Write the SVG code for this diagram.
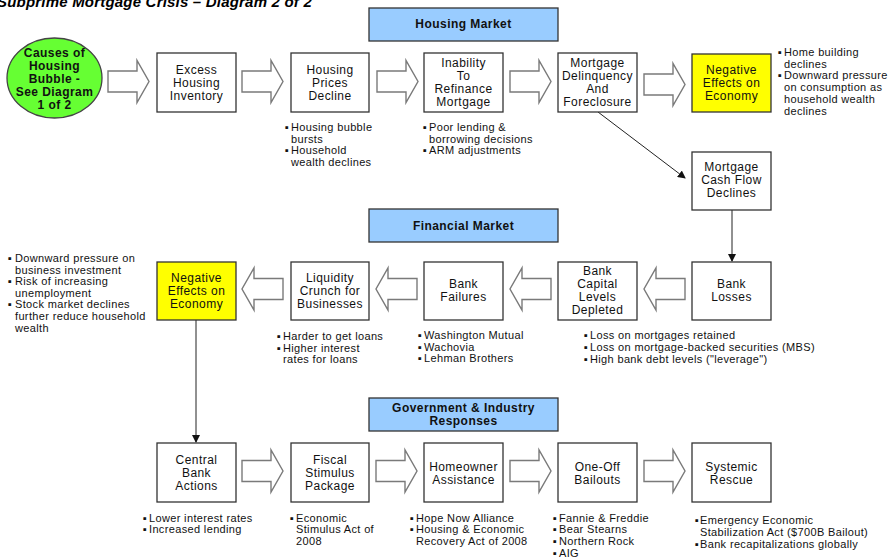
<svg xmlns="http://www.w3.org/2000/svg" xmlns:xlink="http://www.w3.org/1999/xlink" width="891" height="559" viewBox="0 0 891 559">
<defs>
<style>
.box{fill:#fff;stroke:#333;stroke-width:1.3}
.yel{fill:#ffff00}
.hdr{fill:#99ccff;stroke:#333;stroke-width:1.3}
.ell{fill:#66ff33;stroke:#444;stroke-width:1.3}
.ba{fill:#fff;stroke:#7a7a7a;stroke-width:1.4}
.ln{fill:none;stroke:#222;stroke-width:1}
.t{font-family:"Liberation Sans",Arial,sans-serif;font-size:12px;letter-spacing:0.45px;text-anchor:middle;fill:#111}
.bd{font-weight:bold}
.bl{font-family:"Liberation Sans",Arial,sans-serif;font-size:11px;letter-spacing:0.35px;fill:#111}
.ttl{font-family:"Liberation Sans",Arial,sans-serif;font-size:15px;font-weight:bold;font-style:italic;letter-spacing:0.2px;fill:#000}
</style>
<path id="ar" d="M0,-10.5 H29 V-21 L41,0 L29,21 V10.5 H0 Z"/>
<marker id="ah" markerWidth="8" markerHeight="8" refX="7" refY="4" orient="auto" markerUnits="userSpaceOnUse">
<path d="M0,0 L8,4 L0,8 Z" fill="#111"/>
</marker>
</defs>
<rect width="891" height="559" fill="#fff"/>
<text class="ttl" x="-3" y="7">Subprime Mortgage Crisis – Diagram 2 of 2</text>

<g id="connectors">
<use xlink:href="#ar" class="ba" transform="translate(108,81.5)"/>
<use xlink:href="#ar" class="ba" transform="translate(242,81.5)"/>
<use xlink:href="#ar" class="ba" transform="translate(377,81.5)"/>
<use xlink:href="#ar" class="ba" transform="translate(510,81.5)"/>
<use xlink:href="#ar" class="ba" transform="translate(644,84.5)"/>
<use xlink:href="#ar" class="ba" transform="translate(283,289) scale(-1,1)"/>
<use xlink:href="#ar" class="ba" transform="translate(417,289) scale(-1,1)"/>
<use xlink:href="#ar" class="ba" transform="translate(551,289) scale(-1,1)"/>
<use xlink:href="#ar" class="ba" transform="translate(685,289) scale(-1,1)"/>
<use xlink:href="#ar" class="ba" transform="translate(242,471)"/>
<use xlink:href="#ar" class="ba" transform="translate(376,471)"/>
<use xlink:href="#ar" class="ba" transform="translate(510,471)"/>
<use xlink:href="#ar" class="ba" transform="translate(644,471)"/>
<line class="ln" x1="598" y1="112" x2="685" y2="178" marker-end="url(#ah)"/>
<line class="ln" x1="732" y1="210" x2="732" y2="261" marker-end="url(#ah)"/>
<line class="ln" x1="196" y1="320" x2="196" y2="442" stroke="#444" stroke-width="1.4" marker-end="url(#ah)"/>
</g>

<g id="causes">
<ellipse class="ell" cx="54.5" cy="78" rx="47.5" ry="40"/>
<text class="t bd" x="54.5" y="57">Causes of<tspan x="54.5" y="70">Housing</tspan><tspan x="54.5" y="83">Bubble -</tspan><tspan x="54.5" y="96">See Diagram</tspan><tspan x="54.5" y="109">1 of 2</tspan></text>
</g>

<g id="hdr-housing">
<rect class="hdr" x="369" y="8" width="189" height="33"/>
<text class="t bd" x="463.5" y="28">Housing Market</text>
</g>

<g id="excess">
<rect class="box" x="157" y="53" width="79" height="59"/>
<text class="t" x="196.5" y="74">Excess<tspan x="196.5" y="87">Housing</tspan><tspan x="196.5" y="100">Inventory</tspan></text>
</g>

<g id="prices">
<rect class="box" x="291" y="53" width="78" height="59"/>
<text class="t" x="330" y="74">Housing<tspan x="330" y="87">Prices</tspan><tspan x="330" y="100">Decline</tspan></text>
<text class="bl" y="131"><tspan x="285">▪</tspan><tspan x="291">Housing bubble</tspan><tspan x="291" y="142.7">bursts</tspan><tspan x="285" y="154.4">▪</tspan><tspan x="291">Household</tspan><tspan x="291" y="166">wealth declines</tspan></text>
</g>

<g id="inability">
<rect class="box" x="424" y="53" width="79" height="59"/>
<text class="t" x="463.5" y="67">Inability<tspan x="463.5" y="80">To</tspan><tspan x="463.5" y="93">Refinance</tspan><tspan x="463.5" y="106">Mortgage</tspan></text>
<text class="bl" y="131"><tspan x="423">▪</tspan><tspan x="429">Poor lending &amp;</tspan><tspan x="429" y="142.7">borrowing decisions</tspan><tspan x="423" y="154.4">▪</tspan><tspan x="429">ARM adjustments</tspan></text>
</g>

<g id="delinquency">
<rect class="box" x="558" y="53" width="79" height="59"/>
<text class="t" x="597.5" y="67">Mortgage<tspan x="597.5" y="80">Delinquency</tspan><tspan x="597.5" y="93">And</tspan><tspan x="597.5" y="106">Foreclosure</tspan></text>
</g>

<g id="neg-top">
<rect class="box yel" x="692" y="54" width="79" height="58"/>
<text class="t" x="731.5" y="74">Negative<tspan x="731.5" y="87">Effects on</tspan><tspan x="731.5" y="100">Economy</tspan></text>
<text class="bl" y="56"><tspan x="778">▪</tspan><tspan x="784">Home building</tspan><tspan x="784" y="67.7">declines</tspan><tspan x="778" y="79.4">▪</tspan><tspan x="784">Downward pressure</tspan><tspan x="784" y="91">on consumption as</tspan><tspan x="784" y="102.8">household wealth</tspan><tspan x="784" y="114.5">declines</tspan></text>
</g>

<g id="cashflow">
<rect class="box" x="692" y="152" width="79" height="58"/>
<text class="t" x="731.5" y="171">Mortgage<tspan x="731.5" y="184">Cash Flow</tspan><tspan x="731.5" y="197">Declines</tspan></text>
</g>

<g id="hdr-financial">
<rect class="hdr" x="369" y="209" width="189" height="33"/>
<text class="t bd" x="463.5" y="230">Financial Market</text>
</g>

<g id="neg-mid">
<rect class="box yel" x="157" y="262" width="79" height="58"/>
<text class="t" x="196.5" y="282">Negative<tspan x="196.5" y="295">Effects on</tspan><tspan x="196.5" y="308">Economy</tspan></text>
<text class="bl" y="262"><tspan x="8">▪</tspan><tspan x="15">Downward pressure on</tspan><tspan x="15" y="273.5">business investment</tspan><tspan x="8" y="285">▪</tspan><tspan x="15">Risk of increasing</tspan><tspan x="15" y="296.7">unemployment</tspan><tspan x="8" y="308.4">▪</tspan><tspan x="15">Stock market declines</tspan><tspan x="15" y="320">further reduce household</tspan><tspan x="15" y="331.5">wealth</tspan></text>
</g>

<g id="liquidity">
<rect class="box" x="291" y="262" width="78" height="58"/>
<text class="t" x="330" y="282">Liquidity<tspan x="330" y="295">Crunch for</tspan><tspan x="330" y="308">Businesses</tspan></text>
<text class="bl" y="340"><tspan x="277">▪</tspan><tspan x="283">Harder to get loans</tspan><tspan x="277" y="351.5">▪</tspan><tspan x="283">Higher interest</tspan><tspan x="283" y="363">rates for loans</tspan></text>
</g>

<g id="failures">
<rect class="box" x="424" y="262" width="79" height="58"/>
<text class="t" x="463.5" y="288">Bank<tspan x="463.5" y="301">Failures</tspan></text>
<text class="bl" y="339"><tspan x="418">▪</tspan><tspan x="424">Washington Mutual</tspan><tspan x="418" y="350.5">▪</tspan><tspan x="424">Wachovia</tspan><tspan x="418" y="362">▪</tspan><tspan x="424">Lehman Brothers</tspan></text>
</g>

<g id="capital">
<rect class="box" x="558" y="262" width="79" height="58"/>
<text class="t" x="597.5" y="275">Bank<tspan x="597.5" y="288">Capital</tspan><tspan x="597.5" y="301">Levels</tspan><tspan x="597.5" y="314">Depleted</tspan></text>
<text class="bl" y="339.3"><tspan x="584">▪</tspan><tspan x="590">Loss on mortgages retained</tspan><tspan x="584" y="351">▪</tspan><tspan x="590">Loss on mortgage-backed securities (MBS)</tspan><tspan x="584" y="362.7">▪</tspan><tspan x="590">High bank debt levels ("leverage")</tspan></text>
</g>

<g id="losses">
<rect class="box" x="692" y="262" width="79" height="58"/>
<text class="t" x="731.5" y="288">Bank<tspan x="731.5" y="301">Losses</tspan></text>
</g>

<g id="hdr-gov">
<rect class="hdr" x="369" y="398" width="189" height="33"/>
<text class="t bd" x="463.5" y="412">Government &amp; Industry<tspan x="463.5" y="425">Responses</tspan></text>
</g>

<g id="central">
<rect class="box" x="157" y="443" width="79" height="59"/>
<text class="t" x="196.5" y="464">Central<tspan x="196.5" y="477">Bank</tspan><tspan x="196.5" y="490">Actions</tspan></text>
<text class="bl" y="521.7"><tspan x="143">▪</tspan><tspan x="149">Lower interest rates</tspan><tspan x="143" y="533.3">▪</tspan><tspan x="149">Increased lending</tspan></text>
</g>

<g id="fiscal">
<rect class="box" x="291" y="443" width="78" height="59"/>
<text class="t" x="330" y="464">Fiscal<tspan x="330" y="477">Stimulus</tspan><tspan x="330" y="490">Package</tspan></text>
<text class="bl" y="521.7"><tspan x="290">▪</tspan><tspan x="296">Economic</tspan><tspan x="296" y="533.3">Stimulus Act of</tspan><tspan x="296" y="545">2008</tspan></text>
</g>

<g id="homeowner">
<rect class="box" x="424" y="443" width="79" height="59"/>
<text class="t" x="463.5" y="471">Homeowner<tspan x="463.5" y="484">Assistance</tspan></text>
<text class="bl" y="521.7"><tspan x="410">▪</tspan><tspan x="416">Hope Now Alliance</tspan><tspan x="410" y="533.3">▪</tspan><tspan x="416">Housing &amp; Economic</tspan><tspan x="416" y="545">Recovery Act of 2008</tspan></text>
</g>

<g id="oneoff">
<rect class="box" x="558" y="443" width="79" height="59"/>
<text class="t" x="597.5" y="471">One-Off<tspan x="597.5" y="484">Bailouts</tspan></text>
<text class="bl" y="521.7"><tspan x="553">▪</tspan><tspan x="559">Fannie &amp; Freddie</tspan><tspan x="553" y="533.3">▪</tspan><tspan x="559">Bear Stearns</tspan><tspan x="553" y="545">▪</tspan><tspan x="559">Northern Rock</tspan><tspan x="553" y="556.7">▪</tspan><tspan x="559">AIG</tspan></text>
</g>

<g id="systemic">
<rect class="box" x="692" y="443" width="79" height="59"/>
<text class="t" x="731.5" y="471">Systemic<tspan x="731.5" y="484">Rescue</tspan></text>
<text class="bl" y="524.3"><tspan x="695">▪</tspan><tspan x="700">Emergency Economic</tspan><tspan x="700" y="536">Stabilization Act ($700B Bailout)</tspan><tspan x="695" y="547.7">▪</tspan><tspan x="700">Bank recapitalizations globally</tspan></text>
</g>
</svg>
